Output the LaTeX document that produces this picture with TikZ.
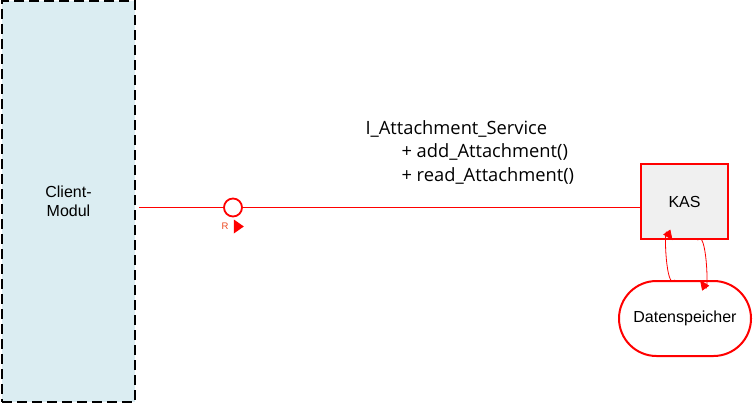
\documentclass[tikz,border=0pt]{standalone}
\usepackage{fontspec}
\setmainfont{Liberation Sans}
\newfontfamily\ifacefont{Open Sans}
\usepackage{xcolor}
\usepackage{tikz}
\usetikzlibrary{positioning,calc,arrows.meta,shapes.misc,shapes.geometric}
\definecolor{ModRed}{RGB}{255,0,0}
\definecolor{RoleRed}{RGB}{235,70,30}
\definecolor{ClientBlue}{RGB}{219,237,242}
\definecolor{KasGray}{RGB}{240,240,240}
\tikzset{
    clientbox/.style={rectangle, draw=black, dashed, dash pattern=on 10pt off 5pt, line width=2.2pt, fill=ClientBlue, minimum width=133pt, minimum height=401pt, inner sep=0pt, font=\fontsize{16}{19}\selectfont, align=center},
    kasbox/.style={rectangle, draw=ModRed, line width=2.4pt, fill=KasGray, minimum width=87pt, minimum height=75pt, inner sep=0pt, font=\fontsize{16}{19}\selectfont},
    storebox/.style={rounded rectangle, draw=ModRed, line width=2pt, fill=white, minimum width=132pt, minimum height=75pt, inner sep=0pt, font=\fontsize{16}{19}\selectfont},
    ifacecircle/.style={circle, draw=ModRed, line width=1.8pt, fill=white, minimum size=18pt, inner sep=0pt},
    ifaceline/.style={ModRed, line width=1.1pt},
    flow/.style={draw=ModRed, line width=0.8pt, -{Triangle[length=10pt,width=8.5pt]}}
}
\begin{document}
\begin{tikzpicture}[x=1pt, y=-1pt]
    \useasboundingbox (0,0) rectangle (754,404);
    % Bausteine
    \node[clientbox] (client) at (68.5,201.5) {Client-\\Modul};
    \node[kasbox] (kas) at (684.5,201.5) {KAS};
    \node[storebox] (store) at (685,318.5) {Datenspeicher};
    \node[ifacecircle] (iface) at (233,207.5) {};
    % Schnittstelle
    \node[font=\ifacefont\fontsize{18.3}{23.5}\selectfont, align=left, anchor=north west] (ops) at (362,117)
        {I\_Attachment\_Service\\\hspace{36pt}+ add\_Attachment()\\\hspace{36pt}+ read\_Attachment()};
    \node[text=RoleRed, font=\fontsize{9.5}{10}\selectfont, inner sep=0pt] (rlabel) at (225,226.5) {R};
    \node[isosceles triangle, isosceles triangle apex angle=70, fill=ModRed, inner sep=0pt, minimum height=10pt, minimum width=10pt, right=5pt of rlabel] (rdir) {};
    % Verbindungen
    \draw[ifaceline] ($(client.east |- iface)+(3,0)$) -- (iface.west);
    \draw[ifaceline] (iface.east) -- (iface -| kas.west);
    \draw[flow] ($(store.north)+(-10,0)$) to[out=-125, in=125] ($(kas.south)+(-12,0)$);
    \draw[flow] ($(kas.south)+(13,0)$) to[out=55, in=-55] ($(store.north)+(15,0)$);
\end{tikzpicture}
\end{document}
